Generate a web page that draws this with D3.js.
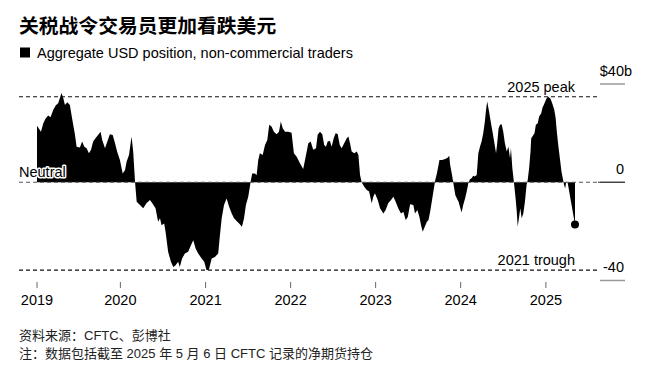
<!DOCTYPE html>
<head>
    <meta charset="utf-8">
    <title>USD positioning</title>
    <style>
        body {
            margin: 0;
            background: #fff;
        }
        svg {
            display: block;
            font-family: "Liberation Sans", Arial, "Noto Sans CJK SC", sans-serif;
        }
        .title {
            font-family: "Liberation Sans", "Noto Sans CJK SC", sans-serif;
            font-weight: 700;
            font-size: 19.8px;
            fill: #000;
        }
        .subtitle { font-size: 14.5px; fill: #000; }
        .note {
            font-family: "Liberation Sans", "Noto Sans CJK SC", sans-serif;
            font-size: 13px;
            fill: #222;
        }
        .lbl { font-size: 14.5px; fill: #000; }
        .halo { stroke: #fff; stroke-width: 3px; paint-order: stroke; stroke-linejoin: round; }
        .area { fill: #000; }
        .ref { stroke: #111; stroke-width: 1.2px; stroke-dasharray: 4,3; fill: none; }
        .ref--zero { stroke: #555; }
    </style>
</head>
<body>
<script src="https://cdn.jsdelivr.net/npm/d3@7"></script>
<script>

// Aggregate USD position of non-commercial traders, $ billions
var weeks = [
  "2019-01-08","2019-01-25","2019-02-04","2019-02-14","2019-02-25","2019-03-07","2019-03-19","2019-03-30",
  "2019-04-09","2019-04-16","2019-04-23","2019-05-01","2019-05-08","2019-05-18","2019-05-29","2019-06-10",
  "2019-06-20","2019-06-27","2019-07-11","2019-07-21","2019-07-30","2019-08-09","2019-08-19","2019-08-28",
  "2019-09-06","2019-09-16","2019-09-28","2019-10-08","2019-10-15","2019-10-27","2019-11-06","2019-11-17",
  "2019-11-29","2019-12-09","2019-12-18","2019-12-30",
  "2020-01-11","2020-01-21","2020-01-28","2020-02-07","2020-02-18","2020-02-25","2020-03-04","2020-03-11",
  "2020-03-25","2020-04-08","2020-04-22","2020-05-07","2020-05-17","2020-05-31","2020-06-11","2020-06-19",
  "2020-06-26","2020-07-07","2020-07-13","2020-07-24","2020-08-05","2020-08-15","2020-08-25","2020-09-05",
  "2020-09-12","2020-09-22","2020-10-04","2020-10-18","2020-10-30","2020-11-09","2020-11-19","2020-11-30",
  "2020-12-15","2020-12-26",
  "2021-01-05","2021-01-15","2021-01-27","2021-02-10","2021-02-24","2021-03-03","2021-03-11","2021-03-21",
  "2021-04-01","2021-04-12","2021-04-23","2021-05-03","2021-05-14","2021-05-25","2021-06-06","2021-06-15",
  "2021-06-23","2021-07-03","2021-07-13","2021-07-20","2021-08-01","2021-08-08","2021-08-15","2021-08-22",
  "2021-09-03","2021-09-13","2021-09-23","2021-10-01","2021-10-11","2021-10-21","2021-11-02","2021-11-12",
  "2021-11-20","2021-11-28","2021-12-08","2021-12-22",
  "2022-01-05","2022-01-15","2022-01-27","2022-02-10","2022-02-24","2022-03-08","2022-03-18","2022-03-28",
  "2022-04-08","2022-04-20","2022-04-27","2022-05-07","2022-05-17","2022-05-25","2022-06-02","2022-06-09",
  "2022-06-19","2022-06-26","2022-07-05","2022-07-13","2022-07-22","2022-07-31","2022-08-08","2022-08-19",
  "2022-08-30","2022-09-06","2022-09-13","2022-09-20","2022-10-01","2022-10-12","2022-10-19","2022-10-26",
  "2022-11-02","2022-11-13","2022-11-24","2022-12-04","2022-12-15","2022-12-22","2022-12-29",
  "2023-01-10","2023-01-20","2023-02-03","2023-02-13","2023-02-24","2023-03-08","2023-03-18","2023-03-28",
  "2023-04-08","2023-04-20","2023-04-30","2023-05-10","2023-05-19","2023-05-29","2023-06-12","2023-06-19",
  "2023-06-29","2023-07-08","2023-07-15","2023-07-22","2023-07-31","2023-08-09","2023-08-16","2023-08-23",
  "2023-08-30","2023-09-06","2023-09-14","2023-09-21","2023-09-28","2023-10-02","2023-10-13","2023-10-27",
  "2023-11-06","2023-11-13","2023-11-17","2023-11-25","2023-12-02","2023-12-09","2023-12-16","2023-12-23",
  "2023-12-29",
  "2024-01-05","2024-01-12","2024-01-20","2024-01-27","2024-02-03","2024-02-10","2024-02-17","2024-02-24",
  "2024-03-02","2024-03-10","2024-03-17","2024-03-24","2024-03-31","2024-04-07","2024-04-14","2024-04-19",
  "2024-04-24","2024-05-02","2024-05-09","2024-05-18","2024-05-25","2024-06-01","2024-06-06","2024-06-12",
  "2024-06-18","2024-06-25","2024-07-02","2024-07-09","2024-07-17","2024-07-24","2024-07-31","2024-08-04",
  "2024-08-10","2024-08-14","2024-08-18","2024-08-24","2024-08-29","2024-09-02","2024-09-08","2024-09-13",
  "2024-09-19","2024-09-26","2024-10-03","2024-10-10","2024-10-15","2024-10-21","2024-10-27","2024-10-30",
  "2024-11-04","2024-11-13","2024-11-19","2024-11-27","2024-12-03","2024-12-12","2024-12-17","2024-12-26",
  "2025-01-04","2025-01-11","2025-01-21","2025-01-28","2025-02-06","2025-02-12","2025-02-17","2025-02-23",
  "2025-03-02","2025-03-09","2025-03-16","2025-03-20","2025-03-25","2025-03-29","2025-04-04","2025-04-08",
  "2025-04-15","2025-04-22","2025-04-29","2025-05-06"
];

var usdPosition = [
  23, 20.6, 24, 26, 27.2, 26.5, 29.5, 31.3,
  32.2, 34.2, 36.3, 34.2, 31.5, 32.6, 31.5, 24.7,
  19.3, 14.5, 14.1, 16.6, 14.5, 13.8, 11.8, 13.2,
  16.6, 17.9, 19.3, 20.6, 17.2, 13.8, 16.6, 19.5,
  19.2, 15.9, 12.5, 9.1,
  3.6, 5, 8.4, 11.1, 18.6, 12.5, 0, -7.9,
  -9.3, -10.6, -8.6, -7.2, -8.6, -10.6, -16.1, -14.7,
  -17.5, -16.8, -20.2, -28.3, -32.4, -34.5, -33.8, -32.4,
  -34.5, -31, -29, -28.3, -25.6, -23.6, -27, -29,
  -31, -32.4,
  -35.8, -35.6, -31, -30.4, -29, -22, -14.7, -9.3,
  -6.6, -10, -12.7, -14.7, -15.8, -16.8, -18.1, -14.7,
  -9.3, -5.9, 0, 3.6, 3.6, 2.9, 9.1, 11.8,
  11.1, 15.2, 17.2, 23.4, 22.7, 20.6, 19.5, 20.6,
  24.7, 22, 20.6, 20.6,
  20.2, 11.8, 10.4, 7.7, 5.4, 11.1, 15.9, 16.6,
  13.2, 13.8, 19.3, 20.6, 19.5, 15.2, 14.5, 16.6,
  16.8, 14.5, 17.9, 20, 19.6, 15.2, 13.8, 15.9,
  17.9, 18.6, 15.9, 12.5, 11.8, 12.5, 11.1, 3,
  0, -1.8, -3.2, -3.8, -8.6, -5.9, -4.5,
  -7.2, -10.6, -12.7, -11.3, -8.6, -7.2, -5.9, -7.9,
  -10.6, -12.7, -12, -15.4, -14.1, -9, -9.3, -12.7,
  -11.3, -14.1, -17.5, -20.2, -18.1, -16.1, -15.4, -12,
  -7.9, -3.8, 0.9, 3.6, 7, 9.1, 9.1, 9.5,
  10, 10.8, 7, 3, -1.1, -5.2, -6.6, -7.9,
  -10,
  -12.3, -9.3, -6.6, -3.8, -0.4, 1.2, 1.6, 2.6,
  2.3, 3, 11.8, 14.5, 16.6, 20, 24.7, 29.5,
  32.9, 28.8, 24.7, 20, 15.9, 11.8, 15.9, 22,
  23.4, 23.6, 20.6, 15.9, 12.5, 14.5, 9.8, 13.8,
  5.7, 2.3, -1.1, -6.6, -12, -18.1, -14.1, -10.6,
  -14.7, -12.7, -7.9, -1.1, 0.9, 5.7, 12.5, 17.9,
  18.6, 20, 23.4, 24, 26.8, 28.1, 30.2, 32.2,
  34.2, 34.8, 34, 32.2, 29.5, 26.1, 20.6, 15.2,
  9.8, 4.3, 0.9, -1.1, -2.5, 0.2, 0, -2,
  -5.9, -9.7, -13.4, -17.2
];

var yTicks = [40, 0, -40];
var yTickLabels = ["$40", "0", "-40"];
var yearTicks = ["2020-01-01","2021-01-01","2022-01-01","2023-01-01","2024-01-01","2025-01-01"];
var yearLabels = ["2019","2020","2021","2022","2023","2024","2025"];

var width = 649, height = 370;

var parse = d3.utcParse("%Y-%m-%d");

var data = weeks.map(function(w, i) {
  return {date: parse(w), value: usdPosition[i]};
});

var x = d3.scaleUtc()
    .domain(d3.extent(data, function(d) { return d.date; }))
    .range([37, 575]);

var y = d3.scaleLinear()
    .domain([-40, 40])
    .range([280.5, 84]);

var svg = d3.select("body").append("svg")
    .attr("width", width)
    .attr("height", height);

// title block
svg.append("text")
    .attr("class", "title")
    .attr("x", 19)
    .attr("y", 33)
    .text("关税战令交易员更加看跌美元");

svg.append("rect")
    .attr("x", 20).attr("y", 47.5)
    .attr("width", 10).attr("height", 10)
    .attr("fill", "#000");

svg.append("text")
    .attr("class", "subtitle")
    .attr("x", 37)
    .attr("y", 57.5)
    .text("Aggregate USD position, non-commercial traders");

// right axis: short tick lines with labels sitting on top
var yAxis = svg.append("g").attr("class", "y-axis");

yAxis.selectAll("line")
    .data(yTicks)
  .enter().append("line")
    .attr("x1", 600).attr("x2", 625)
    .attr("y1", function(d) { return y(d); })
    .attr("y2", function(d) { return y(d); })
    .attr("stroke", function(d) { return d === 0 ? "#333" : "#999"; })
    .attr("stroke-width", function(d) { return d === 0 ? 1 : 1.5; });

yAxis.selectAll("text.num")
    .data(yTicks)
  .enter().append("text")
    .attr("class", "lbl num")
    .attr("x", 624)
    .attr("y", function(d) { return y(d) - 8.5; })
    .attr("text-anchor", "end")
    .text(function(d, i) { return yTickLabels[i]; });

yAxis.append("text")
    .attr("class", "lbl")
    .attr("x", 624)
    .attr("y", y(40) - 8.5)
    .text("b");

// the area
var area = d3.area()
    .x(function(d) { return x(d.date); })
    .y0(y(0))
    .y1(function(d) { return y(d.value); });

svg.append("path")
    .datum(data)
    .attr("class", "area")
    .attr("d", area);

// reference lines
var peak = d3.max(data.filter(function(d) { return d.date.getUTCFullYear() === 2025; }), function(d) { return d.value; });
var trough = d3.min(data.filter(function(d) { return d.date.getUTCFullYear() === 2021; }), function(d) { return d.value; });

svg.append("line")
    .attr("x1", 598).attr("x2", 625)
    .attr("y1", y(0)).attr("y2", y(0))
    .attr("stroke", "#333");

var refs = [
  {v: peak, label: "2025 peak", cls: "ref"},
  {v: 0, label: "", cls: "ref ref--zero"},
  {v: trough, label: "2021 trough", cls: "ref"}
];

svg.selectAll("line.ref")
    .data(refs)
  .enter().append("line")
    .attr("class", function(d) { return d.cls; })
    .attr("x1", 19).attr("x2", 598)
    .attr("y1", function(d) { return y(d.v); })
    .attr("y2", function(d) { return y(d.v); });

svg.selectAll("text.reflbl")
    .data(refs.filter(function(d) { return d.label; }))
  .enter().append("text")
    .attr("class", "lbl reflbl")
    .attr("x", 575)
    .attr("y", function(d) { return y(d.v) - 5; })
    .attr("text-anchor", "end")
    .text(function(d) { return d.label; });

svg.append("text")
    .attr("class", "lbl halo")
    .attr("x", 19)
    .attr("y", y(0) - 5)
    .text("Neutral");

// latest reading
var last = data[data.length - 1];
svg.append("circle")
    .attr("cx", x(last.date))
    .attr("cy", y(last.value))
    .attr("r", 4)
    .attr("fill", "#000");

// bottom axis
var tickDates = [data[0].date].concat(yearTicks.map(parse));

var xAxis = svg.append("g").attr("class", "x-axis");

xAxis.selectAll("line")
    .data(tickDates)
  .enter().append("line")
    .attr("x1", function(d) { return x(d); })
    .attr("x2", function(d) { return x(d); })
    .attr("y1", 282).attr("y2", 288)
    .attr("stroke", "#666");

xAxis.selectAll("text")
    .data(tickDates)
  .enter().append("text")
    .attr("class", "lbl")
    .attr("x", function(d) { return x(d); })
    .attr("y", 305)
    .attr("text-anchor", "middle")
    .text(function(d, i) { return yearLabels[i]; });

// footnotes
svg.append("text")
    .attr("class", "note")
    .attr("x", 19)
    .attr("y", 340)
    .text("资料来源：CFTC、彭博社");

svg.append("text")
    .attr("class", "note")
    .attr("x", 19)
    .attr("y", 358)
    .text("注：数据包括截至 2025 年 5 月 6 日 CFTC 记录的净期货持仓");

</script>
</body>
